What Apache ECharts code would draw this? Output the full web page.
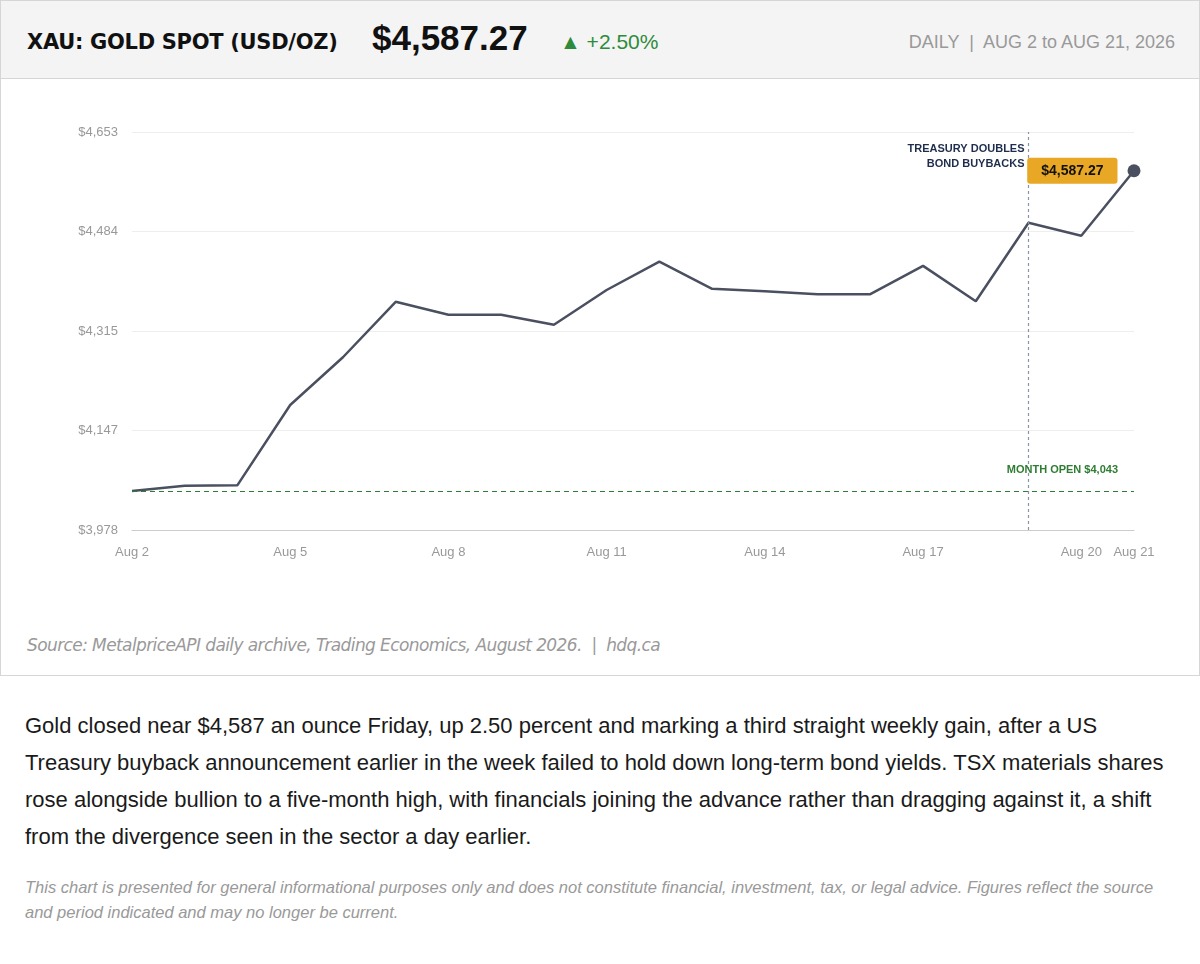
<!DOCTYPE html>
<html><head><meta charset="utf-8">
<script src="https://cdn.jsdelivr.net/npm/echarts@6/dist/echarts.min.js"></script>
<style>
body{margin:0;background:#fff;font-family:"Liberation Sans",Arial,sans-serif;}
#card{position:absolute;left:0;top:0;width:1198px;height:674px;border:1px solid #d6d6d6;}
#head{position:absolute;left:0;top:0;width:1198px;height:77px;background:#f4f4f4;border-bottom:1px solid #d6d6d6;}
#chart{position:absolute;left:0;top:79px;width:1198px;height:550px;}
.t{position:absolute;white-space:nowrap;}
</style></head><body>
<div id="card">
<div id="head">
<div class="t" style="left:26px;top:29px;font-size:21px;font-weight:bold;color:#111;font-family:'DejaVu Sans';letter-spacing:-0.3px;">XAU: GOLD SPOT (USD/OZ)</div>
<div class="t" style="left:371px;top:17px;font-size:35px;font-weight:bold;color:#111;">$4,587.27</div>
<div class="t" style="left:559px;top:29px;font-size:21px;color:#2e8b3a;">▲ +2.50%</div>
<div class="t" style="right:24px;top:31px;font-size:18px;color:#999;">DAILY &nbsp;|&nbsp; AUG 2 to AUG 21, 2026</div>
</div>
<div id="chart"></div>
<div class="t" style="left:26px;top:634px;font-size:17px;font-style:italic;color:#999;font-family:'DejaVu Sans';letter-spacing:-0.6px;">Source: MetalpriceAPI daily archive, Trading Economics, August 2026. &nbsp;|&nbsp; hdq.ca</div>
</div>
<div class="t" style="left:25px;top:707px;width:1160px;white-space:normal;font-size:22px;line-height:37px;color:#1a1a1a;">Gold closed near $4,587 an ounce Friday, up 2.50 percent and marking a third straight weekly gain, after a US Treasury buyback announcement earlier in the week failed to hold down long-term bond yields. TSX materials shares rose alongside bullion to a five-month high, with financials joining the advance rather than dragging against it, a shift from the divergence seen in the sector a day earlier.</div>
<div class="t" style="left:25px;top:875px;width:1160px;white-space:normal;font-size:16.5px;line-height:25px;font-style:italic;color:#999;">This chart is presented for general informational purposes only and does not constitute financial, investment, tax, or legal advice. Figures reflect the source and period indicated and may no longer be current.</div>
<script>
const dates=["Aug 2","Aug 3","Aug 4","Aug 5","Aug 6","Aug 7","Aug 8","Aug 9","Aug 10","Aug 11","Aug 12","Aug 13","Aug 14","Aug 15","Aug 16","Aug 17","Aug 18","Aug 19","Aug 20","Aug 21"];
const prices=[4044,4053,4054,4190,4271,4365,4343,4343,4326,4385,4433,4387,4383,4378,4378,4426,4366,4499,4477,4587.27];
const yTicks=[3978,4147,4315,4484,4653];
const monthOpen=4043;
const shown=[0,3,6,9,12,15,18,19];
const c=echarts.init(document.getElementById('chart'));
c.setOption({
 animation:false,
 grid:{left:131,right:65,top:52,bottom:100},
 xAxis:{type:'category',data:dates,boundaryGap:false,
  axisLine:{lineStyle:{color:'#ccc'}},axisTick:{show:false},
  axisLabel:{interval:(i)=>shown.includes(i),color:'#999',fontSize:13,margin:16}},
 yAxis:{type:'value',min:3978,max:4653,interval:168.75,
  axisLine:{show:false},axisTick:{show:false},
  splitLine:{lineStyle:{color:'#eee'}},
  axisLabel:{color:'#999',fontSize:13,margin:14,formatter:v=>'$'+yTicks[Math.round((v-3978)/168.75)].toLocaleString('en-US')}},
 series:[{type:'line',data:prices,symbol:'none',lineStyle:{color:'#4a5060',width:2.5},
  markLine:{symbol:'none',silent:true,data:[
   {yAxis:monthOpen,lineStyle:{color:'#2e7d32',type:[5,4],width:1.2},
    label:{position:'insideEndTop',formatter:'MONTH OPEN $4,043',color:'#2e7d32',fontSize:11,fontWeight:'bold',distance:[16,16]}},
   {xAxis:'Aug 19',lineStyle:{color:'#8a94a6',type:[3,3],width:1.2},
    label:{show:false}}]},
  markPoint:{symbol:'circle',symbolSize:13,itemStyle:{color:'#4a5060'},
   data:[{coord:['Aug 21',4587.27],
    label:{show:true,position:'left',distance:10,formatter:'$4,587.27',backgroundColor:'#e8a825',color:'#111',fontSize:14,fontWeight:'bold',padding:[6,14],borderRadius:3}},
    {coord:['Aug 19',4612],symbolSize:0,
     label:{show:true,position:'left',distance:4,align:'right',formatter:'TREASURY DOUBLES\nBOND BUYBACKS',color:'#1f2d4d',fontSize:11,fontWeight:'bold',lineHeight:15}}]}
 }]
});
</script>
</body></html>
